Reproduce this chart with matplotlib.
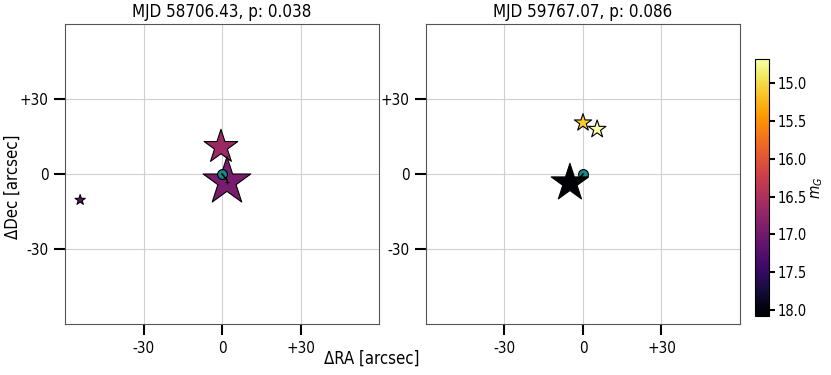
import numpy as np
import matplotlib.pyplot as plt
from matplotlib.colors import Normalize

# panel titles
titles = ["MJD 58706.43, p: 0.038", "MJD 59767.07, p: 0.086"]

# Gaia neighbours per epoch: offsets [arcsec], G magnitude, marker size
ra_1 = [-0.4, 1.9, -54.2]
dec_1 = [10.8, -3.1, -10.4]
mag_1 = [16.65, 16.95, 17.15]
size_1 = [650, 1300, 60]

ra_2 = [0.0, 5.4, -5.0]
dec_2 = [20.5, 17.9, -3.6]
mag_2 = [15.1, 14.68, 18.08]
size_2 = [170, 180, 800]

# transient position and short offset line
src_ra = [0.0, 0.0]
src_dec = [0.0, 0.0]
line_end_ra = [1.9, -1.0]
line_end_dec = [-2.4, -1.4]

ticks = [-30, 0, 30]
tick_labels = ["-30", "0", "+30"]
mag_min, mag_max = 14.68, 18.08

plt.rcParams['font.family'] = 'DejaVu Sans'
plt.rcParams['font.stretch'] = 'condensed'
fig = plt.figure(figsize=(8.31, 3.75), dpi=100)
ax1 = fig.add_axes([65 / 831, 51 / 375, 314 / 831, 300 / 375])
ax2 = fig.add_axes([426 / 831, 51 / 375, 314 / 831, 300 / 375])
cax = fig.add_axes([755 / 831, 59 / 375, 14 / 831, 257 / 375])

norm = Normalize(vmin=mag_min, vmax=mag_max)
cmap = 'inferno_r'

data = [(ra_1, dec_1, mag_1, size_1), (ra_2, dec_2, mag_2, size_2)]
for i, ax in enumerate([ax1, ax2]):
    ra, dec, mag, size = data[i]
    ax.grid(True, color='#d0d0d0', lw=0.8, zorder=0)
    sc = ax.scatter(ra, dec, c=mag, s=size, marker='*', cmap=cmap, norm=norm,
                    edgecolors='black', linewidths=0.8, zorder=3)
    ax.scatter(src_ra[i], src_dec[i], s=50, color='#138a8a',
               edgecolors='black', linewidths=0.8, zorder=4 if i == 0 else 2)
    ax.plot([src_ra[i], line_end_ra[i]], [src_dec[i], line_end_dec[i]],
            color='black', lw=1.2, zorder=5)
    if i == 0:
        ax.plot(ra[1], dec[1], marker='+', color='black', ms=3, mew=0.8, zorder=5)
    ax.set_xlim(-60, 60)
    ax.set_ylim(-60, 60)
    ax.set_xticks(ticks)
    ax.set_xticklabels(tick_labels)
    ax.set_yticks(ticks)
    ax.set_yticklabels(tick_labels)
    ax.tick_params(length=8, width=1.5, labelsize=11, pad=4)
    ax.set_title(titles[i], fontsize=12.2, pad=5)
    for sp in ax.spines.values():
        sp.set_color('#555555')

cb = fig.colorbar(sc, cax=cax)
cb.ax.invert_yaxis()
cb.set_ticks([15.0, 15.5, 16.0, 16.5, 17.0, 17.5, 18.0])
cb.ax.tick_params(length=4, width=1.5, labelsize=10.5, pad=2)
cb.set_label('$m_G$', fontsize=11, labelpad=2)

fig.text(372 / 831, 16 / 375, 'ΔRA [arcsec]', ha='center', va='center', fontsize=12)
fig.text(13 / 831, (375 - 187) / 375, 'ΔDec [arcsec]', ha='center', va='center',
         rotation=90, fontsize=12)

fig.savefig('out.png', dpi=100)
